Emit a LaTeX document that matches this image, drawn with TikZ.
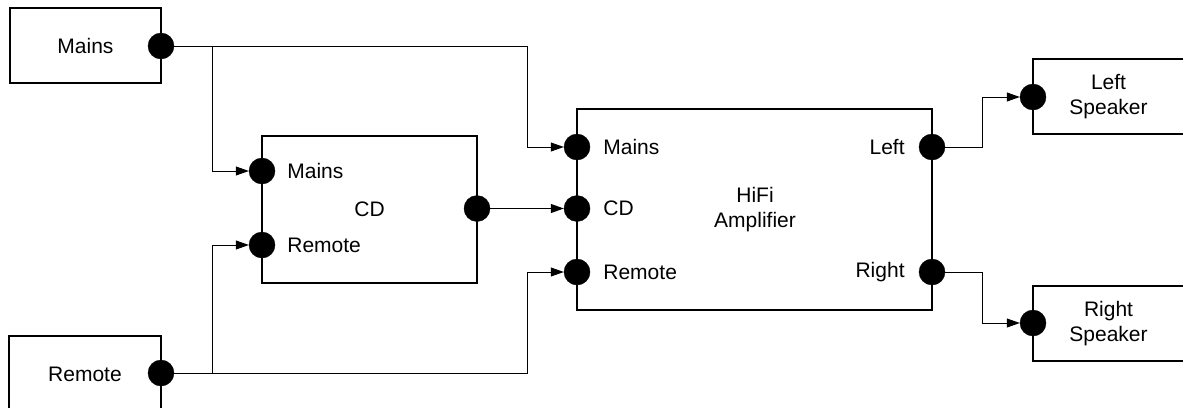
\documentclass[tikz,border=0pt]{standalone}
\usepackage{fontspec}
\setmainfont{Liberation Sans}
\usetikzlibrary{arrows.meta}
\begin{document}
\begin{tikzpicture}[x=1pt,y=-1pt,
  every node/.style={font=\fontsize{21}{25}\selectfont},
  box/.style={draw,line width=1.3pt,rectangle,inner sep=0pt,align=center},
  port/.style={circle,fill=black,draw=black,minimum size=26pt,inner sep=0pt},
  plabel/.style={inner sep=0pt},
  wire/.style={line width=1pt,-{Triangle[length=13pt,width=9pt]}}]
\clip (0,0) rectangle (1183,407);
\useasboundingbox (0,0) rectangle (1183,407);
% boxes
\node[box,minimum width=151pt,minimum height=75pt] (mainsbox) at (85.5,45.5) {Mains};
\node[box,minimum width=152pt,minimum height=75pt] (remotebox) at (85,373.5) {};
\node at (85,374) (remotetext) {Remote};
\node[box,minimum width=215pt,minimum height=147pt] (cd) at (369.5,209.5) {};
\node at (369.5,209) (cdtext) {CD};
\node[box,minimum width=355pt,minimum height=201pt] (amp) at (754.5,209.5) {};
\node[align=center] at (755,210) (amptext) {HiFi\\Amplifier};
\node[box,minimum width=151pt,minimum height=75pt] (ls) at (1108.5,96.5) {Left\\Speaker};
\node[box,minimum width=151pt,minimum height=75pt] (rs) at (1108.5,323.5) {Right\\Speaker};
% ports
\node[port] (pMains) at (161,46) {};
\node[port] (pRemote) at (161,373) {};
\node[port] (cdMains) at (262,171) {};
\node[port] (cdRemote) at (262,245) {};
\node[port] (cdOut) at (477,208.5) {};
\node[port] (aMains) at (577,147) {};
\node[port] (aCD) at (577,208.5) {};
\node[port] (aRemote) at (577,272) {};
\node[port] (aLeft) at (932,147) {};
\node[port] (aRight) at (932,272) {};
\node[port] (lsIn) at (1033,97) {};
\node[port] (rsIn) at (1033,323) {};
% port labels
\node[plabel,anchor=west] (lcdMains) at ([xshift=12pt]cdMains.east) {Mains};
\node[plabel,anchor=west] (lcdRemote) at ([xshift=12pt]cdRemote.east) {Remote};
\node[plabel,anchor=west] (laMains) at ([xshift=13pt]aMains.east) {Mains};
\node[plabel,anchor=west] (laCD) at ([xshift=13pt]aCD.east) {CD};
\node[plabel,anchor=west] (laRemote) at ([xshift=13pt]aRemote.east) {Remote};
\node[plabel,anchor=east] (laLeft) at ([xshift=-14pt]aLeft.west) {Left};
\node[plabel,anchor=east] (laRight) at ([xshift=-14pt]aRight.west) {Right};
% routing coordinates
\coordinate (xl) at (212,0);
\coordinate (xm) at (527,0);
\coordinate (xr) at (982,0);
% wires
\draw[wire] (pMains.east) -- (pMains -| xl) |- (cdMains.west);
\draw[wire] (pMains.east) -- (pMains -| xm) |- (aMains.west);
\draw[wire] (pRemote.east) -- (pRemote -| xl) |- (cdRemote.west);
\draw[wire] (pRemote.east) -- (pRemote -| xm) |- (aRemote.west);
\draw[wire] (cdOut.east) -- (aCD.west);
\draw[wire] (aLeft.east) -- (aLeft -| xr) |- (lsIn.west);
\draw[wire] (aRight.east) -- (aRight -| xr) |- (rsIn.west);
\end{tikzpicture}
\end{document}
